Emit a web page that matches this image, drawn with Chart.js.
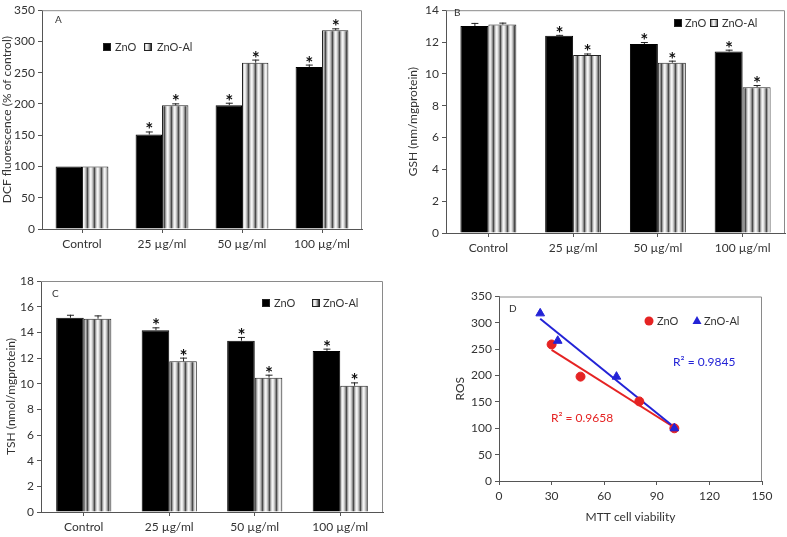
<!DOCTYPE html>
<html>
<head>
<meta charset="utf-8">
<script src="https://cdn.jsdelivr.net/npm/chart.js@4.4.1/dist/chart.umd.min.js"></script>
<style>
  body { margin: 0; background: #fff; width: 787px; height: 537px; position: relative; overflow: hidden; }
  .panel { position: absolute; }
</style>
</head>
<body>
<div class="panel" style="left:0;top:0;width:390px;height:262px"><canvas id="chartA"></canvas></div>
<div class="panel" style="left:392px;top:0;width:395px;height:262px"><canvas id="chartB"></canvas></div>
<div class="panel" style="left:0;top:262px;width:390px;height:275px"><canvas id="chartC"></canvas></div>
<div class="panel" style="left:432px;top:272px;width:355px;height:265px"><canvas id="chartD"></canvas></div>
<script>
const categories = ['Control', '25 µg/ml', '50 µg/ml', '100 µg/ml'];
const seriesNames = ['ZnO', 'ZnO-Al'];
const significant = [false, true, true, true];

// A - DCF fluorescence
const dcfZnO = [100, 151, 198, 259];
const dcfZnOErr = [0, 5, 4, 4];
const dcfAl = [100, 198, 266, 318];
const dcfAlErr = [0, 3, 5, 3];

// B - GSH
const gshZnO = [13.0, 12.4, 11.88, 11.4];
const gshZnOErr = [0.2, 0.05, 0.12, 0.12];
const gshAl = [13.1, 11.18, 10.7, 9.16];
const gshAlErr = [0.12, 0.1, 0.13, 0.14];

// C - TSH
const tshZnO = [15.14, 14.16, 13.35, 12.55];
const tshZnOErr = [0.23, 0.23, 0.29, 0.18];
const tshAl = [15.06, 11.74, 10.47, 9.84];
const tshAlErr = [0.26, 0.29, 0.23, 0.26];

// D - ROS vs MTT viability
const mttZnO = [30, 46.5, 80, 100];
const rosZnO = [259, 198, 151, 100];
const mttAl = [23.5, 33.5, 67, 100];
const rosAl = [318, 266, 198, 100];
const r2ZnO = 'R² = 0.9658';
const r2Al = 'R² = 0.9845';

const FONT = 'Lato, "Open Sans", sans-serif';
const TXT = '#333';
const AXIS = '#555';

function stripePattern() {
  const c = document.createElement('canvas');
  const cols = ['#e6e6e6', '#c0c0c0', '#8c8c8c', '#4a4a4a', '#9c9c9c', '#d4d4d4', '#f4f4f4'];
  c.width = cols.length; c.height = 4;
  const g = c.getContext('2d');
  cols.forEach((col, i) => { g.fillStyle = col; g.fillRect(i, 0, 1, 4); });
  return g.createPattern(c, 'repeat');
}

const boxPlugin = {
  id: 'plotBox',
  afterDraw(chart) {
    const a = chart.chartArea, ctx = chart.ctx;
    ctx.save();
    ctx.strokeStyle = '#8a8a8a';
    ctx.lineWidth = 1;
    ctx.beginPath();
    ctx.moveTo(a.left, a.top + 0.5);
    ctx.lineTo(a.right - 0.5, a.top + 0.5);
    ctx.lineTo(a.right - 0.5, a.bottom);
    ctx.stroke();
    ctx.restore();
  }
};

const errPlugin = {
  id: 'errBars',
  afterDatasetsDraw(chart, args, opts) {
    if (!opts.errors) return;
    const ctx = chart.ctx, ys = chart.scales.y;
    ctx.save();
    opts.errors.forEach((errs, di) => {
      const meta = chart.getDatasetMeta(di);
      const vals = chart.data.datasets[di].data;
      meta.data.forEach((bar, i) => {
        const top = ys.getPixelForValue(vals[i] + errs[i]);
        if (errs[i] > 0) {
          ctx.strokeStyle = '#222';
          ctx.lineWidth = 1;
          ctx.beginPath();
          ctx.moveTo(bar.x + 0.5, bar.y);
          ctx.lineTo(bar.x + 0.5, top);
          ctx.moveTo(bar.x - 3, top + 0.5);
          ctx.lineTo(bar.x + 4, top + 0.5);
          ctx.stroke();
        }
        if (significant[i]) {
          ctx.fillStyle = '#111';
          ctx.font = 'bold 19px ' + FONT;
          ctx.textAlign = 'center';
          ctx.textBaseline = 'alphabetic';
          ctx.fillText('*', bar.x + 0.5, top + 5);
        }
      });
    });
    ctx.restore();
  }
};

const decoPlugin = {
  id: 'deco',
  afterDraw(chart, args, opts) {
    const ctx = chart.ctx;
    ctx.save();
    ctx.fillStyle = TXT;
    ctx.textBaseline = 'middle';
    ctx.textAlign = 'left';
    if (opts.letter) {
      ctx.font = '10px ' + FONT;
      ctx.fillText(opts.letter[0], opts.letter[1], opts.letter[2]);
    }
    if (opts.legend) {
      const L = opts.legend;
      ctx.font = '11px ' + FONT;
      chart.data.datasets.slice(0, 2).forEach((ds, i) => {
        const it = L[i];
        if (chart.config.type === 'scatter') {
          ctx.fillStyle = ds.pointBackgroundColor;
          ctx.beginPath();
          if (ds.pointStyle === 'triangle') {
            ctx.moveTo(it[0], it[2] - 5);
            ctx.lineTo(it[0] + 4.5, it[2] + 3);
            ctx.lineTo(it[0] - 4.5, it[2] + 3);
            ctx.closePath();
          } else {
            ctx.arc(it[0], it[2], 4.5, 0, Math.PI * 2);
          }
          ctx.fill();
        } else {
          ctx.fillStyle = ds.backgroundColor;
          ctx.fillRect(it[0] - 3.5, it[2] - 3.5, 7, 7);
          ctx.strokeStyle = '#222';
          ctx.lineWidth = 1;
          ctx.strokeRect(it[0] - 3.5, it[2] - 3.5, 7, 7);
        }
        ctx.fillStyle = TXT;
        ctx.fillText(ds.label, it[1], it[2]);
      });
    }
    if (opts.notes) {
      ctx.font = '12px ' + FONT;
      opts.notes.forEach(n => {
        ctx.fillStyle = n.color;
        ctx.fillText(n.text, chart.scales.x.getPixelForValue(n.x), chart.scales.y.getPixelForValue(n.y));
      });
    }
    ctx.restore();
  }
};

Chart.register(boxPlugin, errPlugin, decoPlugin);

function axisFont() { return { family: FONT, size: 12 }; }

function barChart(id, s1, e1, s2, e2, yMax, step, yTitle, layout, deco) {
  const ctx = document.getElementById(id).getContext('2d');
  return new Chart(ctx, {
    type: 'bar',
    data: {
      labels: categories,
      datasets: [
        { label: seriesNames[0], data: s1, backgroundColor: '#000', borderColor: '#000', borderWidth: 1 },
        { label: seriesNames[1], data: s2, backgroundColor: stripePattern(), borderColor: '#222', borderWidth: 1 }
      ]
    },
    options: {
      responsive: true,
      maintainAspectRatio: false,
      animation: false,
      categoryPercentage: layout.cat,
      barPercentage: 1,
      layout: { padding: { top: layout.top, right: layout.right, left: 0, bottom: 0 } },
      scales: {
        x: {
          afterFit(sc) { sc.height = layout.xh; },
          grid: { display: true, drawOnChartArea: false, offset: false, tickLength: 4, color: AXIS },
          border: { display: true, color: AXIS },
          ticks: { font: axisFont(), color: TXT, padding: 4 }
        },
        y: {
          min: 0, max: yMax,
          afterFit(sc) { sc.width = layout.yw; },
          grid: { display: true, drawOnChartArea: false, tickLength: 4, color: AXIS },
          border: { display: true, color: AXIS },
          ticks: { stepSize: step, font: axisFont(), color: TXT, padding: 3 },
          title: { display: true, text: yTitle, font: axisFont(), color: TXT, padding: { top: layout.tpad } }
        }
      },
      plugins: {
        legend: { display: false },
        tooltip: { enabled: false },
        errBars: { errors: [e1, e2] },
        deco: deco
      }
    }
  });
}

barChart('chartA', dcfZnO, dcfZnOErr, dcfAl, dcfAlErr, 350, 50, 'DCF fluorescence (% of control)',
  { top: 7, right: 28, xh: 33, yw: 42, tpad: 0, cat: 0.66 },
  { letter: ['A', 55, 20], legend: [[107, 115, 47], [148, 157, 47]] });

barChart('chartB', gshZnO, gshZnOErr, gshAl, gshAlErr, 14, 2, 'GSH (nm/mgprotein)',
  { top: 6, right: 2, xh: 29, yw: 54, tpad: 14, cat: 0.66 },
  { letter: ['B', 62, 13], legend: [[286, 293, 23], [322, 330, 23]] });

barChart('chartC', tshZnO, tshZnOErr, tshAl, tshAlErr, 18, 2, 'TSH (nmol/mgprotein)',
  { top: 19, right: 7, xh: 25, yw: 41, tpad: 4, cat: 0.645 },
  { letter: ['C', 52, 32], legend: [[266, 274, 41], [316, 323, 41]] });

function linFit(xs, ys) {
  const n = xs.length;
  const mx = xs.reduce((a, b) => a + b, 0) / n;
  const my = ys.reduce((a, b) => a + b, 0) / n;
  let sxy = 0, sxx = 0;
  for (let i = 0; i < n; i++) { sxy += (xs[i] - mx) * (ys[i] - my); sxx += (xs[i] - mx) ** 2; }
  const m = sxy / sxx, b = my - m * mx;
  const x0 = Math.min(...xs), x1 = Math.max(...xs);
  return [{ x: x0, y: m * x0 + b }, { x: x1, y: m * x1 + b }];
}

const RED = '#e52323', BLUE = '#2323d6';
const ptsZnO = mttZnO.map((x, i) => ({ x, y: rosZnO[i] }));
const ptsAl = mttAl.map((x, i) => ({ x, y: rosAl[i] }));

// lower order is painted last (on top): blue triangles above red dots, points above fit lines
new Chart(document.getElementById('chartD').getContext('2d'), {
  type: 'scatter',
  data: {
    datasets: [
      { label: seriesNames[0], data: ptsZnO, order: 1, pointStyle: 'circle', pointRadius: 4.5, pointBackgroundColor: RED, pointBorderColor: RED },
      { label: seriesNames[1], data: ptsAl, order: 0, pointStyle: 'triangle', pointRadius: 5, pointBackgroundColor: BLUE, pointBorderColor: BLUE },
      { label: 'fitZnO', data: linFit(mttZnO, rosZnO), order: 3, showLine: true, pointRadius: 0, borderColor: RED, borderWidth: 2 },
      { label: 'fitAl', data: linFit(mttAl, rosAl), order: 2, showLine: true, pointRadius: 0, borderColor: BLUE, borderWidth: 2 }
    ]
  },
  options: {
    responsive: true,
    maintainAspectRatio: false,
    animation: false,
    layout: { padding: { top: 24.5, right: 25, left: 0, bottom: 0 } },
    scales: {
      x: {
        min: 0, max: 150,
        afterFit(sc) { sc.height = 56; },
        grid: { display: true, drawOnChartArea: false, tickLength: 4, color: AXIS },
        border: { display: true, color: AXIS },
        ticks: { stepSize: 30, font: axisFont(), color: TXT, padding: 4 },
        title: { display: true, text: 'MTT cell viability', font: axisFont(), color: TXT, padding: { bottom: 13 } }
      },
      y: {
        min: 0, max: 350,
        afterFit(sc) { sc.width = 67; },
        grid: { display: true, drawOnChartArea: false, tickLength: 4, color: AXIS },
        border: { display: true, color: AXIS },
        ticks: { stepSize: 50, font: axisFont(), color: TXT, padding: 3 },
        title: { display: true, text: 'ROS', font: axisFont(), color: TXT, padding: { top: 21 } }
      }
    },
    plugins: {
      legend: { display: false },
      tooltip: { enabled: false },
      deco: {
        letter: ['D', 77, 37],
        legend: [[217, 225, 49], [265, 272, 49]],
        notes: [
          { text: r2Al, x: 99.3, y: 226, color: BLUE },
          { text: r2ZnO, x: 29.6, y: 119, color: RED }
        ]
      }
    }
  }
});
</script>
</body>
</html>
